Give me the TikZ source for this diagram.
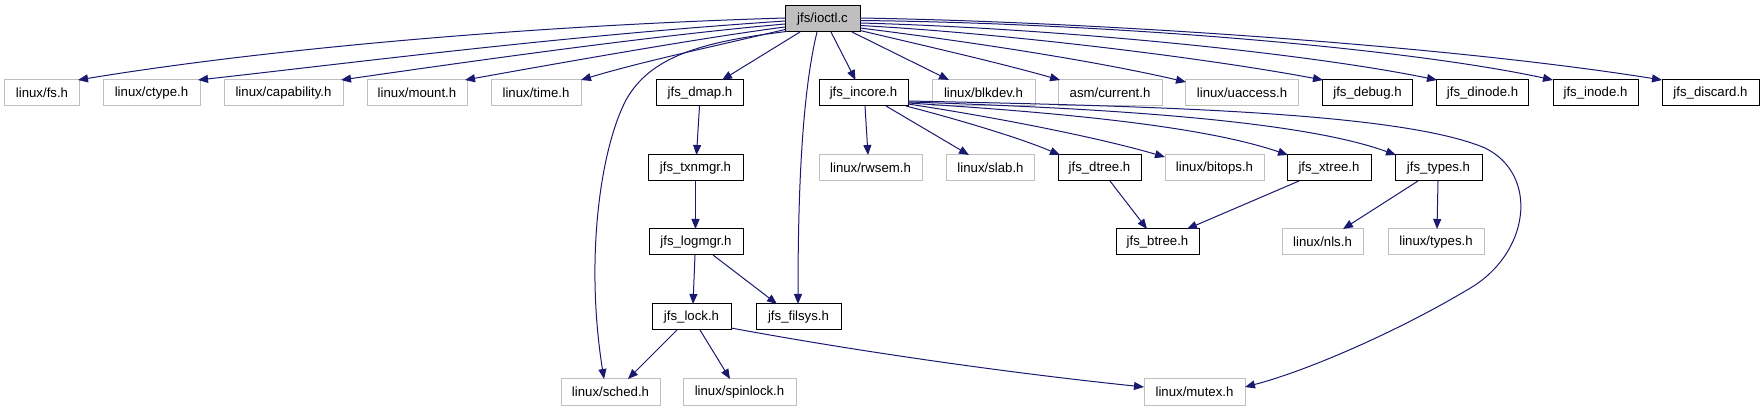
\documentclass[tikz,border=0pt]{standalone}
\usepackage{fontspec}
\setmainfont{Liberation Sans}
\usetikzlibrary{arrows.meta}
\definecolor{edgeblue}{HTML}{191970}
\definecolor{undocgray}{HTML}{BFBFBF}
\begin{document}
\begin{tikzpicture}[x=1pt,y=1pt,
 box/.style={rectangle, minimum height=26pt, inner sep=0pt, font=\fontsize{13.2}{15}\selectfont, line width=1pt},
 doc/.style={box, draw=black},
 undoc/.style={box, draw=undocgray},
 root/.style={box, draw=black, fill=undocgray},
 edge/.style={draw=edgeblue, line width=1pt, -{Triangle[length=10pt,width=8pt]}}]
\useasboundingbox (0,0) rectangle (1764,-411);
% row 0
\node[root, minimum width=75pt] (ioctl) at (822.5,-19) {jfs/ioctl.c};
% row 1
\node[undoc, minimum width=75pt] (fs) at (42,-93) {linux/fs.h};
\node[undoc, minimum width=97pt] (ctype) at (151.5,-93) {linux/ctype.h};
\node[undoc, minimum width=119pt] (cap) at (283.5,-93) {linux/capability.h};
\node[undoc, minimum width=100pt] (mount) at (417,-93) {linux/mount.h};
\node[undoc, minimum width=90pt] (time) at (536,-93) {linux/time.h};
\node[doc, minimum width=87.5pt] (dmap) at (700,-93) {jfs\_dmap.h};
\node[doc, minimum width=89pt] (incore) at (863.5,-93) {jfs\_incore.h};
\node[undoc, minimum width=103pt] (blkdev) at (983.5,-93) {linux/blkdev.h};
\node[undoc, minimum width=104pt] (current) at (1110,-93) {asm/current.h};
\node[undoc, minimum width=113pt] (uaccess) at (1242,-93) {linux/uaccess.h};
\node[doc, minimum width=90pt] (debug) at (1367.5,-93) {jfs\_debug.h};
\node[doc, minimum width=92pt] (dinode) at (1482.5,-93) {jfs\_dinode.h};
\node[doc, minimum width=85pt] (inode) at (1595.5,-93) {jfs\_inode.h};
\node[doc, minimum width=97pt] (discard) at (1710.5,-93) {jfs\_discard.h};
% row 2
\node[doc, minimum width=95pt] (txn) at (695.5,-168) {jfs\_txnmgr.h};
\node[undoc, minimum width=103pt] (rwsem) at (870.5,-168) {linux/rwsem.h};
\node[undoc, minimum width=88pt] (slab) at (990.5,-168) {linux/slab.h};
\node[doc, minimum width=83pt] (dtree) at (1099.5,-168) {jfs\_dtree.h};
\node[undoc, minimum width=99pt] (bitops) at (1214.5,-168) {linux/bitops.h};
\node[doc, minimum width=84pt] (xtree) at (1329,-168) {jfs\_xtree.h};
\node[doc, minimum width=87pt] (types) at (1438.5,-168) {jfs\_types.h};
% row 3
\node[doc, minimum width=94pt] (logmgr) at (696,-242) {jfs\_logmgr.h};
\node[doc, minimum width=83pt] (btree) at (1157.5,-242) {jfs\_btree.h};
\node[undoc, minimum width=81pt] (nls) at (1322.5,-242) {linux/nls.h};
\node[undoc, minimum width=96pt] (ltypes) at (1436,-242) {linux/types.h};
% row 4
\node[doc, minimum width=79pt] (lock) at (691.5,-317) {jfs\_lock.h};
\node[doc, minimum width=85pt] (filsys) at (798.5,-317) {jfs\_filsys.h};
% row 5
\node[undoc, minimum width=99pt] (sched) at (610.5,-392) {linux/sched.h};
\node[undoc, minimum width=113pt] (spinlock) at (739.5,-392) {linux/spinlock.h};
\node[undoc, minimum width=101pt] (mutex) at (1194.5,-392) {linux/mutex.h};

% edges from ioctl
\draw[edge] ([shift={(-37.5,1)}]ioctl.center) .. controls (520,-26) and (260,-50) .. ([shift={(36,13)}]fs.center);
\draw[edge] ([shift={(-37.5,-2)}]ioctl.center) .. controls (560,-36) and (360,-62) .. ([shift={(46.5,13)}]ctype.center);
\draw[edge] ([shift={(-37.5,-5)}]ioctl.center) .. controls (650,-36) and (480,-60) .. ([shift={(57.5,13)}]cap.center);
\draw[edge] ([shift={(-37.5,-8)}]ioctl.center) .. controls (700,-38) and (560,-63) .. ([shift={(48,13)}]mount.center);
\draw[edge] ([shift={(-37.5,-10.5)}]ioctl.center) .. controls (720,-45) and (640,-62) .. ([shift={(45,13)}]time.center);
\draw[edge] ([shift={(-36,-12.5)}]ioctl.center) .. controls (700,-42) and (650,-57) .. (626,-100) .. controls (600,-150) and (585,-260) .. ([shift={(-6.5,13)}]sched.center);
\draw[edge] ([shift={(-22.5,-13)}]ioctl.center) -- ([shift={(22,13)}]dmap.center);
\draw[edge] ([shift={(-5.5,-13)}]ioctl.center) .. controls (803,-90) and (798,-180) .. ([shift={(-0.5,13)}]filsys.center);
\draw[edge] ([shift={(8.5,-13)}]ioctl.center) -- ([shift={(-8,13)}]incore.center);
\draw[edge] ([shift={(29.5,-13)}]ioctl.center) -- ([shift={(-34.5,13)}]blkdev.center);
\draw[edge] ([shift={(37.5,-11.5)}]ioctl.center) .. controls (930,-47) and (1000,-63) .. ([shift={(-50,13)}]current.center);
\draw[edge] ([shift={(37.5,-9)}]ioctl.center) .. controls (980,-43) and (1100,-62) .. ([shift={(-56,11)}]uaccess.center);
\draw[edge] ([shift={(37.5,-6.5)}]ioctl.center) .. controls (1000,-33) and (1200,-57) .. ([shift={(-44.5,13)}]debug.center);
\draw[edge] ([shift={(37.5,-4)}]ioctl.center) .. controls (1050,-28) and (1300,-52) .. ([shift={(-45.5,13)}]dinode.center);
\draw[edge] ([shift={(37.5,-1.5)}]ioctl.center) .. controls (1100,-23) and (1400,-47) .. ([shift={(-42.5,13)}]inode.center);
\draw[edge] ([shift={(37.5,1)}]ioctl.center) .. controls (1100,-22) and (1450,-46) .. ([shift={(-48.5,13)}]discard.center);

% edges from incore
\draw[edge] ([shift={(1.5,-13)}]incore.center) -- ([shift={(-2.5,13)}]rwsem.center);
\draw[edge] ([shift={(22.5,-13)}]incore.center) -- ([shift={(-21.5,13)}]slab.center);
\draw[edge] ([shift={(42.5,-13)}]incore.center) .. controls (960,-120) and (1020,-138) .. ([shift={(-39.5,13)}]dtree.center);
\draw[edge] ([shift={(44.5,-11)}]incore.center) .. controls (1000,-118) and (1100,-138) .. ([shift={(-49.5,11)}]bitops.center);
\draw[edge] ([shift={(44.5,-10)}]incore.center) .. controls (1050,-112) and (1200,-125) .. ([shift={(-41,13)}]xtree.center);
\draw[edge] ([shift={(44.5,-9)}]incore.center) .. controls (1100,-108) and (1300,-120) .. ([shift={(-42.5,13)}]types.center);
\draw[edge] ([shift={(44.5,-8)}]incore.center) .. controls (1150,-106) and (1400,-112) .. (1485,-148) .. controls (1540,-175) and (1530,-255) .. (1467,-290) .. controls (1400,-330) and (1310,-370) .. ([shift={(50.5,5)}]mutex.center);

% lower edges
\draw[edge] ([shift={(-0.5,-13)}]dmap.center) -- ([shift={(1,13)}]txn.center);
\draw[edge] ([shift={(0,-13)}]txn.center) -- ([shift={(-0.5,13)}]logmgr.center);
\draw[edge] ([shift={(-1,-13)}]logmgr.center) -- ([shift={(1.5,13)}]lock.center);
\draw[edge] ([shift={(17,-13)}]logmgr.center) -- ([shift={(-21.5,13)}]filsys.center);
\draw[edge] ([shift={(-14.5,-13)}]lock.center) -- ([shift={(17.5,13)}]sched.center);
\draw[edge] ([shift={(8.5,-13)}]lock.center) -- ([shift={(-9.5,13)}]spinlock.center);
\draw[edge] ([shift={(39.5,-11)}]lock.center) .. controls (850,-350) and (1000,-372) .. ([shift={(-50.5,5)}]mutex.center);
\draw[edge] ([shift={(10.5,-13)}]dtree.center) -- ([shift={(-10.5,13)}]btree.center);
\draw[edge] ([shift={(-30,-13)}]xtree.center) -- ([shift={(29.5,13)}]btree.center);
\draw[edge] ([shift={(-20.5,-13)}]types.center) -- ([shift={(20.5,13)}]nls.center);
\draw[edge] ([shift={(-0.5,-13)}]types.center) -- ([shift={(1,13)}]ltypes.center);
\end{tikzpicture}
\end{document}
